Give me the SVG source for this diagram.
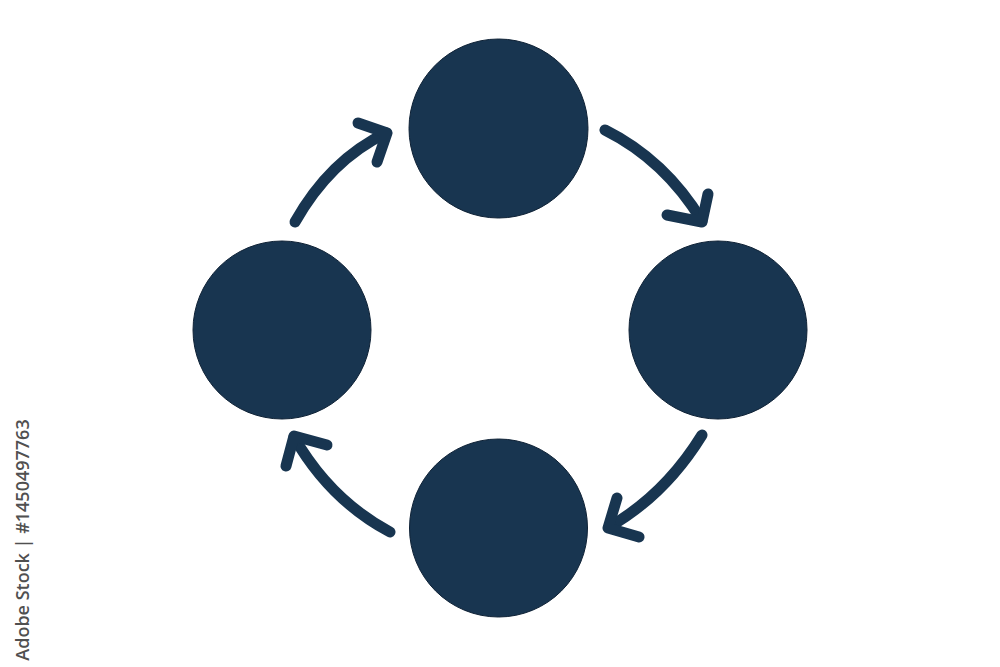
<svg xmlns="http://www.w3.org/2000/svg" width="1000" height="667" viewBox="0 0 1000 667">
<style>
.node{fill:#183550;stroke:#0f2236;stroke-width:1}
.arc{fill:none;stroke:#183550;stroke-width:11;stroke-linecap:round;stroke-linejoin:round}
.wm{font-family:"Open Sans","Liberation Sans",sans-serif;font-size:18px;font-weight:600;fill:#505050}
</style>
<rect width="1000" height="667" fill="#ffffff"/>
<g id="node-top"><circle class="node" cx="498.5" cy="128.5" r="89.5"/></g>
<g id="node-right"><circle class="node" cx="718" cy="330" r="89"/></g>
<g id="node-bottom"><circle class="node" cx="498.5" cy="528" r="89"/></g>
<g id="node-left"><circle class="node" cx="282" cy="330" r="89"/></g>
<g id="connectors">
<path class="arc" d="M295,222 Q330,160 386,133"/>
<polyline class="arc" points="358,123 387,133 377,162"/>
<path class="arc" d="M605,130 Q665,160 702,221"/>
<polyline class="arc" points="667,215 702,222 708,194"/>
<path class="arc" d="M702,435 Q665,495 609,527"/>
<polyline class="arc" points="617,498 608,528 639,537"/>
<path class="arc" d="M390,532 Q330,500 294,437"/>
<polyline class="arc" points="327,445 294,436 286,466"/>
</g>
<text class="wm" transform="translate(29,540) rotate(-90)" text-anchor="middle">Adobe Stock | #1450497763</text>
</svg>
